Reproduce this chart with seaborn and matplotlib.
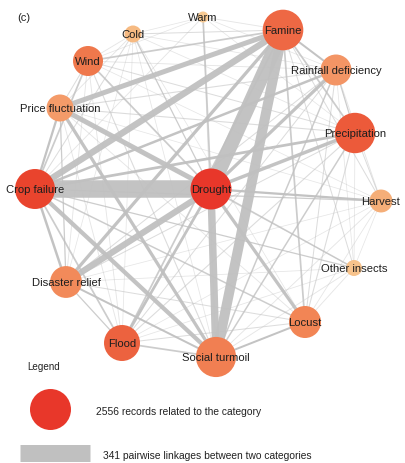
import matplotlib
matplotlib.use("Agg")
import matplotlib.pyplot as plt
import pandas as pd
import seaborn as sns

# Categories and the number of records related to each one
categories = ["Drought", "Famine", "Crop failure", "Precipitation", "Social turmoil",
              "Flood", "Locust", "Disaster relief", "Rainfall deficiency", "Wind",
              "Price fluctuation", "Harvest", "Other insects", "Cold", "Warm"]
records = [2556, 2510, 2430, 2480, 2450, 1970, 1560, 1540, 1460, 1370, 1110, 800, 390, 440, 185]

# Pairwise linkages between categories (source, target, count)
edge_source = [
    "Crop failure", "Famine", "Famine", "Drought", "Famine", "Disaster relief", "Price fluctuation",
    "Famine", "Crop failure", "Disaster relief", "Price fluctuation", "Rainfall deficiency",
    "Precipitation", "Locust", "Flood", "Precipitation", "Rainfall deficiency", "Crop failure",
    "Harvest", "Price fluctuation", "Famine", "Famine", "Famine", "Famine", "Locust", "Flood",
    "Disaster relief", "Flood", "Flood", "Wind", "Wind", "Cold", "Warm", "Other insects",
    "Other insects", "Locust", "Social turmoil", "Social turmoil", "Harvest", "Harvest",
    "Precipitation", "Precipitation", "Disaster relief", "Disaster relief", "Wind", "Cold", "Cold",
    "Cold", "Cold", "Warm", "Warm", "Wind", "Locust", "Locust", "Locust", "Other insects",
    "Other insects", "Other insects", "Harvest", "Harvest", "Harvest", "Flood", "Flood",
    "Disaster relief", "Disaster relief", "Disaster relief", "Price fluctuation",
    "Price fluctuation", "Price fluctuation", "Price fluctuation", "Wind", "Wind", "Wind", "Wind",
    "Cold", "Cold", "Cold", "Warm", "Warm", "Warm", "Warm", "Warm", "Other insects",
    "Other insects", "Other insects", "Other insects", "Harvest", "Harvest", "Harvest", "Harvest",
    "Cold", "Cold", "Cold", "Other insects", "Other insects",
]
edge_target = [
    "Drought", "Drought", "Social turmoil", "Social turmoil", "Crop failure", "Drought", "Drought",
    "Price fluctuation", "Social turmoil", "Famine", "Social turmoil", "Drought",
    "Drought", "Drought", "Drought", "Crop failure", "Crop failure", "Disaster relief",
    "Drought", "Crop failure", "Rainfall deficiency", "Precipitation", "Wind", "Locust",
    "Social turmoil", "Social turmoil", "Social turmoil", "Famine", "Crop failure", "Drought",
    "Crop failure", "Drought", "Drought", "Drought", "Crop failure", "Crop failure",
    "Precipitation", "Rainfall deficiency", "Crop failure", "Famine", "Rainfall deficiency",
    "Harvest", "Flood", "Price fluctuation", "Price fluctuation", "Famine", "Crop failure",
    "Price fluctuation", "Wind", "Famine", "Crop failure", "Social turmoil", "Precipitation",
    "Flood", "Rainfall deficiency", "Famine", "Locust", "Social turmoil", "Social turmoil",
    "Locust", "Rainfall deficiency", "Precipitation", "Rainfall deficiency", "Precipitation",
    "Rainfall deficiency", "Locust", "Precipitation", "Rainfall deficiency", "Locust", "Flood",
    "Precipitation", "Rainfall deficiency", "Flood", "Disaster relief", "Precipitation",
    "Rainfall deficiency", "Social turmoil", "Precipitation", "Rainfall deficiency", "Wind",
    "Cold", "Social turmoil", "Precipitation", "Harvest", "Flood", "Disaster relief", "Flood",
    "Disaster relief", "Price fluctuation", "Wind", "Flood", "Locust", "Disaster relief",
    "Price fluctuation", "Rainfall deficiency",
]
edge_count = [
    341, 275, 190, 140, 120, 115, 90,
    90, 75, 55, 55, 55,
    60, 55, 45, 45, 40, 40,
    35, 35, 30, 25, 25, 25, 30, 25,
    30, 25, 25, 25, 25, 15, 25, 20,
    15, 20, 20, 20, 15, 10,
    15, 10, 15, 15, 10, 10, 10,
    8, 8, 8, 8, 12, 12,
    10, 10, 10, 8, 8, 8,
    6, 8, 12, 10, 10,
    10, 10, 12, 12, 8, 8,
    10, 8, 8, 8, 6,
    6, 6, 5, 5, 5,
    5, 8, 6, 5, 6, 6, 5,
    5, 5, 5, 5, 5, 5,
    5, 5,
]

nodes = pd.DataFrame({"category": categories, "records": records})
edges = pd.DataFrame({"source": edge_source, "target": edge_target, "count": edge_count})

# Network layout (figure pixel coordinates)
layout = {
    "Warm": (203, 18), "Famine": (283, 31), "Rainfall deficiency": (336, 71),
    "Precipitation": (355, 134), "Harvest": (381, 202), "Other insects": (354, 269),
    "Locust": (305, 323), "Social turmoil": (216, 358), "Flood": (122, 344),
    "Disaster relief": (66, 283), "Crop failure": (35, 190), "Price fluctuation": (60, 109),
    "Wind": (88, 62), "Cold": (133, 35), "Drought": (211, 190),
}
node_colors = {
    "Drought": "#e8372a", "Crop failure": "#e9442d", "Famine": "#ee6844",
    "Precipitation": "#ec5a3a", "Flood": "#ec623f", "Social turmoil": "#f17f52",
    "Locust": "#f28555", "Disaster relief": "#f28a5a", "Wind": "#ef784c",
    "Rainfall deficiency": "#f39565", "Price fluctuation": "#f49b69",
    "Harvest": "#f5ae78", "Other insects": "#f7c38c", "Cold": "#f6ba82", "Warm": "#f8ca93",
}

nodes["x"] = nodes["category"].map(lambda c: layout[c][0])
nodes["y"] = nodes["category"].map(lambda c: layout[c][1])

W, H, DPI = 406, 464, 100
PT = 72 / DPI                    # points per pixel
MAX_RECORDS = 2556
MAX_LINK = 341
S_MAX = (2 * 20.5 * PT) ** 2     # marker area (pt^2) for the largest category


def link_width(count):
    return (0.5 + 17.0 * count / MAX_LINK) * PT


def link_alpha(count):
    if count <= 8:
        return 0.4
    if count < 15:
        return 0.55
    if count < 30:
        return 0.8
    return 0.95


sns.set_theme(style="white")
plt.rcParams["font.family"] = ["Liberation Sans", "DejaVu Sans"]

fig = plt.figure(figsize=(W / DPI, H / DPI), dpi=DPI)
ax = fig.add_axes([0, 0, 1, 1])

# Links, thin ones first
for _, e in edges.sort_values("count").iterrows():
    (x0, y0), (x1, y1) = layout[e["source"]], layout[e["target"]]
    ax.plot([x0, x1], [y0, y1], color="#c0c0c0", lw=link_width(e["count"]),
            solid_capstyle="butt", alpha=link_alpha(e["count"]), zorder=1)

# Category nodes, area proportional to the number of records
sns.scatterplot(data=nodes, x="x", y="y", hue="category", palette=node_colors,
                size="records", sizes=(0, S_MAX), size_norm=(0, MAX_RECORDS),
                linewidth=0, legend=False, ax=ax, zorder=3)

for _, n in nodes.iterrows():
    ax.text(n["x"], n["y"], n["category"], ha="center", va="center",
            fontsize=8.1, color="#1e1e1e", zorder=4)

ax.text(17, 18, "(c)", ha="left", va="center", fontsize=8, color="#222222")

# Legend
ax.text(27, 367, "Legend", ha="left", va="center", fontsize=7.1, color="#222222")
legend_node = pd.DataFrame({"x": [50.5], "y": [410], "records": [MAX_RECORDS]})
sns.scatterplot(data=legend_node, x="x", y="y", size="records", sizes=(0, S_MAX),
                size_norm=(0, MAX_RECORDS), color=node_colors["Drought"],
                linewidth=0, legend=False, ax=ax, zorder=3)
ax.text(96, 412, f"{MAX_RECORDS} records related to the category", ha="left",
        va="center", fontsize=7.4, color="#222222")
ax.plot([20, 90], [454, 454], color="#c0c0c0", lw=link_width(MAX_LINK) - 0.5 * PT,
        solid_capstyle="butt", zorder=1)
ax.text(103, 456, f"{MAX_LINK} pairwise linkages between two categories", ha="left",
        va="center", fontsize=7.4, color="#222222")

ax.set_xlim(0, W)
ax.set_ylim(H, 0)
ax.axis("off")
fig.savefig("out.png", dpi=DPI)
